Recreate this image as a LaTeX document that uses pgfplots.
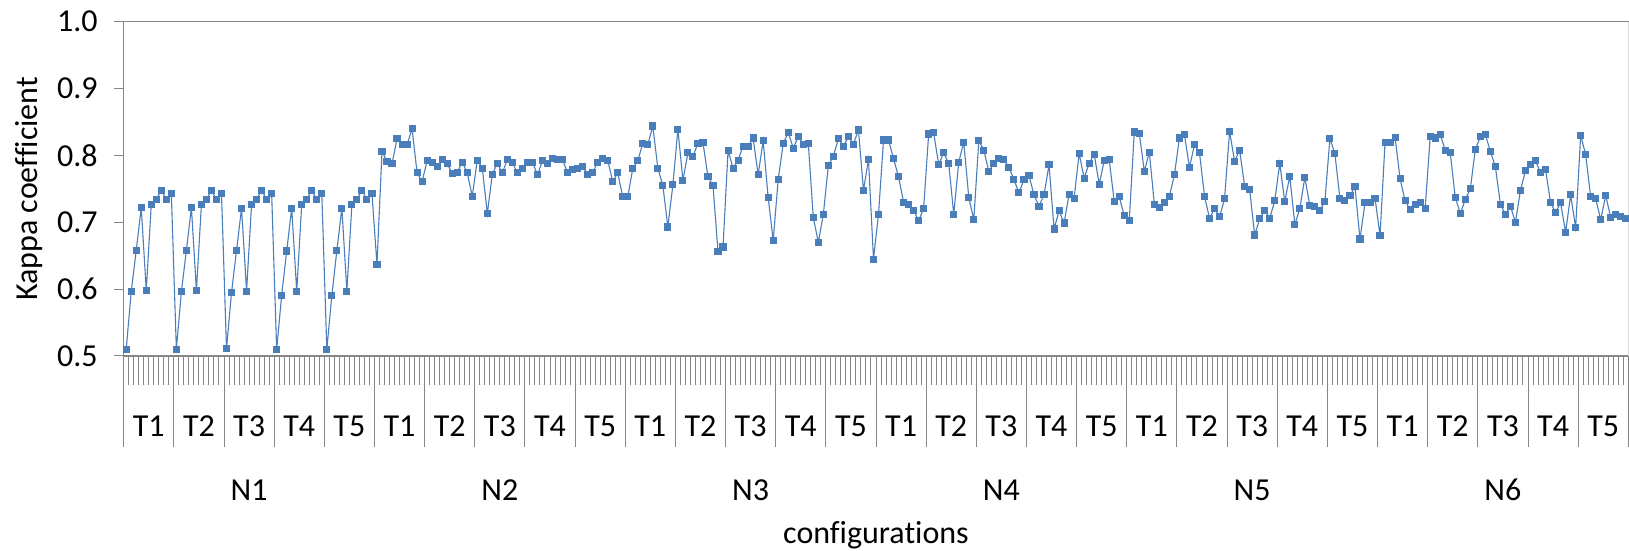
\documentclass[border=0pt]{standalone}
\usepackage{pgfplots}
\pgfplotsset{compat=1.18}
\usepackage{pgfplotstable}
\usepackage{fontspec}
\setmainfont{Carlito}[Ligatures=NoCommon]
\definecolor{series}{HTML}{4A7EBB}
\definecolor{axisgray}{HTML}{868686}
\definecolor{framegray}{HTML}{D9D9D9}

\pgfplotstableread{
y
0.510
0.596
0.658
0.722
0.598
0.727
0.734
0.748
0.734
0.743
0.510
0.596
0.658
0.722
0.598
0.727
0.734
0.748
0.734
0.743
0.511
0.595
0.658
0.721
0.597
0.727
0.734
0.748
0.734
0.743
0.510
0.591
0.657
0.721
0.597
0.727
0.734
0.748
0.734
0.743
0.510
0.590
0.658
0.721
0.597
0.727
0.734
0.748
0.734
0.743
0.637
0.806
0.791
0.788
0.825
0.817
0.816
0.840
0.774
0.761
0.792
0.790
0.784
0.794
0.788
0.773
0.775
0.790
0.774
0.739
0.793
0.781
0.713
0.772
0.788
0.774
0.794
0.789
0.774
0.780
0.790
0.790
0.771
0.792
0.788
0.795
0.794
0.794
0.774
0.779
0.780
0.784
0.771
0.774
0.790
0.795
0.793
0.761
0.774
0.738
0.738
0.780
0.792
0.818
0.816
0.844
0.781
0.755
0.693
0.756
0.839
0.763
0.804
0.799
0.818
0.819
0.768
0.755
0.656
0.663
0.807
0.781
0.793
0.814
0.814
0.826
0.771
0.822
0.737
0.673
0.764
0.818
0.834
0.811
0.828
0.817
0.818
0.707
0.670
0.712
0.785
0.799
0.825
0.814
0.828
0.817
0.838
0.748
0.794
0.645
0.712
0.823
0.823
0.795
0.768
0.730
0.726
0.718
0.702
0.721
0.832
0.834
0.786
0.804
0.788
0.712
0.790
0.820
0.737
0.704
0.822
0.808
0.776
0.788
0.796
0.794
0.782
0.764
0.744
0.764
0.770
0.741
0.724
0.741
0.786
0.690
0.717
0.699
0.742
0.736
0.803
0.766
0.788
0.802
0.757
0.792
0.794
0.731
0.738
0.710
0.703
0.835
0.833
0.776
0.805
0.727
0.722
0.730
0.739
0.771
0.826
0.831
0.782
0.816
0.804
0.739
0.706
0.720
0.708
0.735
0.836
0.791
0.808
0.754
0.749
0.681
0.705
0.718
0.706
0.732
0.788
0.731
0.769
0.697
0.720
0.767
0.725
0.724
0.718
0.731
0.825
0.803
0.735
0.733
0.740
0.753
0.675
0.729
0.729
0.736
0.680
0.820
0.820
0.827
0.765
0.732
0.719
0.727
0.729
0.721
0.828
0.826
0.831
0.808
0.804
0.737
0.713
0.734
0.750
0.809
0.828
0.831
0.806
0.783
0.727
0.712
0.724
0.700
0.748
0.777
0.787
0.792
0.774
0.779
0.729
0.715
0.729
0.685
0.741
0.692
0.830
0.801
0.738
0.735
0.704
0.740
0.707
0.711
0.709
0.706
}\kappadata

\begin{document}
\begin{tikzpicture}[font=\fontsize{16}{19}\selectfont]
\begin{axis}[
  scale only axis,
  width=752.3pt, height=167.15pt,
  xmin=0, xmax=300, ymin=0.5, ymax=1.0,
  clip=false,
  axis line style={axisgray, line width=0.6pt},
  tick style={axisgray, line width=0.5pt},
  tick align=outside,
  tick pos=left,
  xtick={0,10,...,300},
  xticklabels={},
  minor xtick={0,1,...,300},
  x tick style={/pgfplots/major tick length=45.5pt, /pgfplots/minor tick length=14.5pt},
  extra x ticks={0,50,...,300},
  extra x tick labels={},
  extra x tick style={/pgfplots/major tick length=76.3pt},
  ytick={0.5,0.6,0.7,0.8,0.9,1.0},
  y tick style={/pgfplots/major tick length=5pt},
  yticklabel style={xshift=-5.2pt, /pgf/number format/.cd, fixed, fixed zerofill, precision=1, assume math mode=true},
  ylabel={Kappa coefficient},
  ylabel style={at={(axis description cs:-0.06294,0.5)}, anchor=center},
  xlabel={configurations},
  xlabel style={at={(axis description cs:0.5,-0.5355)}, anchor=center},
]
\addplot[color=series, line width=0.55pt, mark=square*, mark size=1.5pt,
  mark options={fill=series, draw=series, solid}]
  table[x expr=\coordindex+0.5, y=y] {\kappadata};
\draw[framegray, line width=0.6pt] (rel axis cs:1,0) -- (rel axis cs:1,1);
\pgfplotsinvokeforeach{0,...,5}{
  \node[yshift=-67pt] at (axis cs:{50*#1+25},0.5) {N\the\numexpr#1+1\relax};
  \node[yshift=-35pt] at (axis cs:{50*#1+5},0.5) {T1};
  \node[yshift=-35pt] at (axis cs:{50*#1+15},0.5) {T2};
  \node[yshift=-35pt] at (axis cs:{50*#1+25},0.5) {T3};
  \node[yshift=-35pt] at (axis cs:{50*#1+35},0.5) {T4};
  \node[yshift=-35pt] at (axis cs:{50*#1+45},0.5) {T5};
}
\coordinate (sw) at (rel axis cs:0,0);
\end{axis}
\pgfresetboundingbox
\path[use as bounding box] ([shift={(-61.85pt,-97.5pt)}]sw) rectangle ([shift={(752.65pt,178pt)}]sw);
\end{tikzpicture}
\end{document}
